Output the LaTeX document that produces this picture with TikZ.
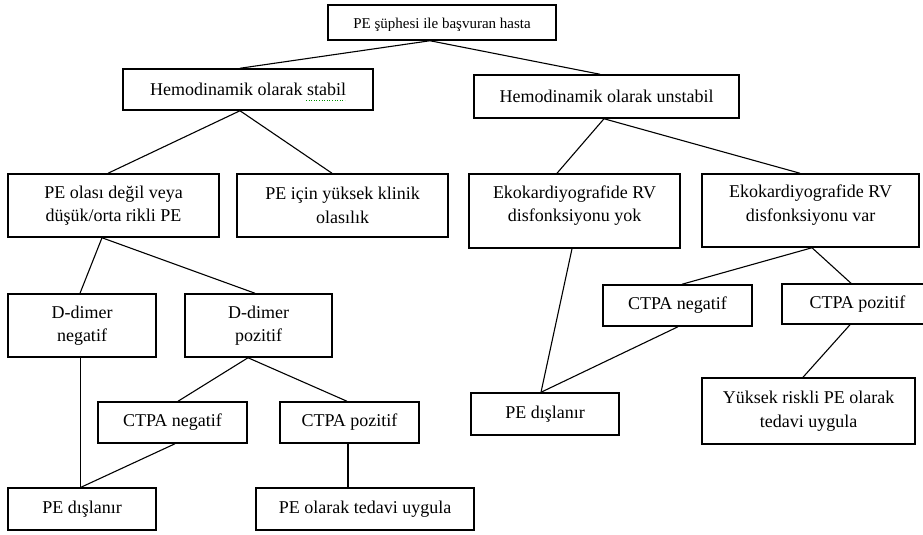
\documentclass[tikz,border=0pt]{standalone}
\usepackage{fontspec}
\setmainfont{Liberation Serif}
\begin{document}
\begin{tikzpicture}[x=1pt,y=-1pt,
  box/.style={draw, line width=1.5pt, align=center, inner sep=0pt,
    font=\fontsize{18}{23.5}\selectfont},
  link/.style={line width=1.1pt}]
\useasboundingbox (0,0) rectangle (923,535);
\clip (0,0) rectangle (923,535);
% top node, descenders cut
\node[box, minimum width=228pt, minimum height=35pt] (top) at (442,22.5) {};
\begin{scope}
\clip (330,7) rectangle (554,30.8);
\node[font=\fontsize{15}{18}\selectfont, inner sep=0pt, anchor=base] (toptext) at (442,29) {PE şüphesi ile başvuran hasta};
\end{scope}
\node[box, minimum width=250pt, minimum height=41pt] (stab) at (248,89.5) {Hemodinamik olarak stabil};
\coordinate (wave1) at (306,100.5);
\coordinate (wave2) at (345,100.5);
\draw[green!55!black, line width=0.6pt, dotted] (wave1) -- (wave2);
\node[box, minimum width=265pt, minimum height=43pt] (unst) at (606.5,96.5) {Hemodinamik olarak unstabil};
\node[box, minimum width=211pt, minimum height=63pt] (olasi) at (113.5,205.5) {PE olası değil veya\\düşük/orta rikli PE};
\node[box, minimum width=211pt, minimum height=63pt] (yuksek) at (342.5,205.5) {PE için yüksek klinik\\olasılık};
\node[box, minimum width=211pt, minimum height=74pt, text depth=15pt] (yok) at (574.5,211) {Ekokardiyografide RV\\disfonksiyonu yok};
\node[box, minimum width=217pt, minimum height=73pt, text depth=15pt] (var) at (810.5,210.5) {Ekokardiyografide RV\\disfonksiyonu var};
\node[box, minimum width=148pt, minimum height=63pt] (dneg) at (82,325.5) {D-dimer\\negatif};
\node[box, minimum width=147pt, minimum height=63pt] (dpoz) at (258.5,325.5) {D-dimer\\pozitif};
\node[box, minimum width=149pt, minimum height=41pt] (cneg1) at (172.5,422.5) {CTPA negatif};
\node[box, minimum width=139pt, minimum height=41pt] (cpoz1) at (349.5,422.5) {CTPA pozitif};
\node[box, minimum width=148pt, minimum height=42pt] (dis1) at (82,509) {PE dışlanır};
\node[box, minimum width=218pt, minimum height=42pt] (tedavi) at (365,509) {PE olarak tedavi uygula};
\node[box, minimum width=149pt, minimum height=41pt] (cneg2) at (677.5,305.5) {CTPA negatif};
\node[box, minimum width=151pt, minimum height=40pt] (cpoz2) at (857.5,304) {CTPA pozitif};
\node[box, minimum width=148pt, minimum height=42pt] (dis2) at (545,414) {PE dışlanır};
\node[box, minimum width=213pt, minimum height=66pt] (ysk) at (808.5,411) {Yüksek riskli PE olarak\\tedavi uygula};
% connectors
\draw[link] ([xshift=-12pt]top.south) -- ([xshift=-8pt]stab.north);
\draw[link] ([xshift=-12pt]top.south) -- ([xshift=-6.5pt]unst.north);
\draw[link] ([xshift=-8pt]stab.south) -- ([xshift=-5.5pt]olasi.north);
\draw[link] ([xshift=-8pt]stab.south) -- ([xshift=-10.5pt]yuksek.north);
\draw[link] ([xshift=-2.5pt]unst.south) -- ([xshift=-17.5pt]yok.north);
\draw[link] ([xshift=-2.5pt]unst.south) -- ([xshift=-10.5pt]var.north);
\draw[link] ([xshift=-11.5pt]olasi.south) -- ([xshift=-2pt]dneg.north);
\draw[link] ([xshift=-11.5pt]olasi.south) -- ([xshift=-3.5pt]dpoz.north);
\draw[link] ([xshift=-1.5pt]dneg.south) -- ([xshift=-1.5pt]dis1.north);
\draw[link] ([xshift=-10.5pt]dpoz.south) -- ([xshift=5.5pt]cneg1.north);
\draw[link] ([xshift=-10.5pt]dpoz.south) -- ([xshift=-2.5pt]cpoz1.north);
\draw[link] ([xshift=2.5pt]cneg1.south) -- ([xshift=-1pt]dis1.north);
\draw[link] ([xshift=-1.5pt]cpoz1.south) -- ([xshift=-17pt]tedavi.north);
\draw[link] ([xshift=-2.5pt]yok.south) -- ([xshift=-4pt]dis2.north);
\draw[link] ([xshift=1.5pt]var.south) -- ([xshift=4.5pt]cneg2.north);
\draw[link] ([xshift=1.5pt]var.south) -- ([xshift=-6.5pt]cpoz2.north);
\draw[link] ([xshift=0.5pt]cneg2.south) -- ([xshift=-4pt]dis2.north);
\draw[link] ([xshift=-7.5pt]cpoz2.south) -- ([xshift=-5.5pt]ysk.north);
\end{tikzpicture}
\end{document}
